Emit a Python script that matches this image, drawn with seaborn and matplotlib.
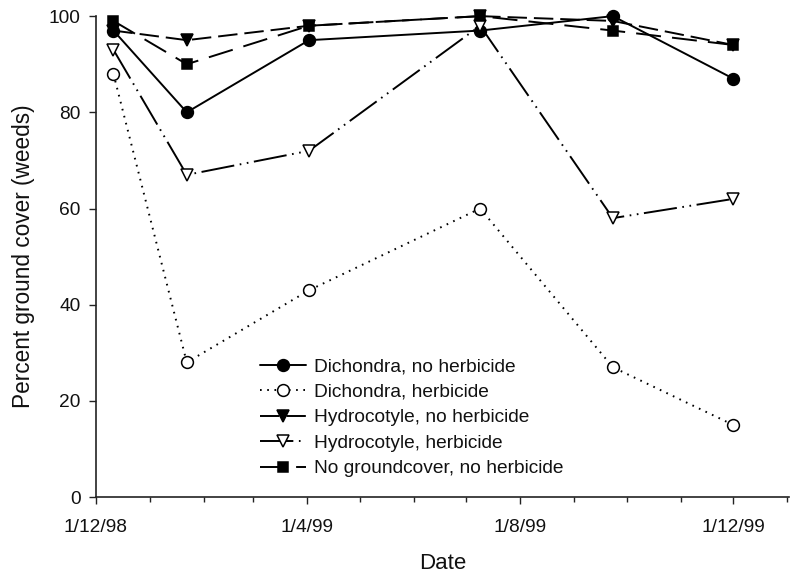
import matplotlib
matplotlib.use("Agg")
import matplotlib.pyplot as plt
import matplotlib.dates as mdates
import matplotlib.ticker as mticker
import numpy as np
import pandas as pd
import seaborn as sns

# ---- data ----
dates = ["1998-12-11", "1999-01-22", "1999-04-02", "1999-07-09", "1999-09-23", "1999-12-01"]
dichondra_no_herb = [97, 80, 95, 97, 100, 87]
dichondra_herb = [88, 28, 43, 60, 27, 15]
hydrocotyle_no_herb = [97, 95, 98, 100, 99, 94]
hydrocotyle_herb = [93, 67, 72, 98, 58, 62]
no_groundcover = [99, 90, 98, 100, 97, 94]

series_names = [
    "Dichondra, no herbicide",
    "Dichondra, herbicide",
    "Hydrocotyle, no herbicide",
    "Hydrocotyle, herbicide",
    "No groundcover, no herbicide",
]
series_values = [dichondra_no_herb, dichondra_herb, hydrocotyle_no_herb,
                 hydrocotyle_herb, no_groundcover]

x_tick_labels = ["1/12/98", "1/4/99", "1/8/99", "1/12/99"]
y_ticks = [0, 20, 40, 60, 80, 100]

# ---- styling ----
sns.set_theme(style="ticks")
plt.rcParams["font.family"] = ["Liberation Sans", "DejaVu Sans"]
plt.rcParams["lines.scale_dashes"] = False

styles = {
    "Dichondra, no herbicide": dict(marker="o", mfc="black", ls="-"),
    "Dichondra, herbicide": dict(marker="o", mfc="white", ls=(0, (1.2, 4))),
    "Hydrocotyle, no herbicide": dict(marker="v", mfc="black", ls=(0, (14, 5))),
    "Hydrocotyle, herbicide": dict(marker="v", mfc="white", ls=(0, (24, 4, 1.2, 4, 1.2, 4))),
    "No groundcover, no herbicide": dict(marker="s", mfc="black", ls=(0, (18, 8))),
}

rows = []
for name, vals in zip(series_names, series_values):
    for d, v in zip(dates, vals):
        rows.append({"Date": pd.Timestamp(d), "value": v, "series": name})
df = pd.DataFrame(rows)

fig = plt.figure(figsize=(7.9, 5.76), dpi=100)
ax = fig.add_axes([0.1215, 0.137, 0.8775, 0.835])

for name in series_names:
    sub = df[df["series"] == name]
    st = styles[name]
    sns.lineplot(data=sub, x="Date", y="value", ax=ax, color="black",
                 linewidth=1.4, linestyle=st["ls"], marker=st["marker"],
                 markersize=8.5 if st["marker"] != "s" else 7.5,
                 markerfacecolor=st["mfc"], markeredgecolor="black",
                 markeredgewidth=1.1, label=name, clip_on=False)

ax.set_ylim(0, 100)
ax.set_yticks(y_ticks)
ax.set_xlim(pd.Timestamp("1998-12-01"), pd.Timestamp("2000-01-02"))

major_dates = [pd.Timestamp("1998-12-01"), pd.Timestamp("1999-04-01"),
               pd.Timestamp("1999-08-01"), pd.Timestamp("1999-12-01")]
ax.xaxis.set_major_locator(mticker.FixedLocator(mdates.date2num(major_dates)))
ax.xaxis.set_major_formatter(mticker.FixedFormatter(x_tick_labels))
ax.xaxis.set_minor_locator(mdates.MonthLocator())

sns.despine(ax=ax)
for sp in ["left", "bottom"]:
    ax.spines[sp].set_linewidth(1.2)
    ax.spines[sp].set_color("#222222")

ax.tick_params(axis="both", which="major", direction="out", length=5,
               width=1.0, color="#222222", labelsize=13.8, labelcolor="#111111")
ax.tick_params(axis="x", which="major", pad=11)
ax.tick_params(axis="x", which="minor", direction="out", length=3.5,
               width=1.0, color="#222222")
ax.tick_params(axis="y", which="major", pad=6)

ax.set_xlabel("Date", fontsize=16, color="#111111", labelpad=12)
ax.set_ylabel("Percent ground cover (weeds)", fontsize=16.3, color="#111111", labelpad=10)

leg = ax.legend(loc="upper left", bbox_to_anchor=(0.225, 0.305), frameon=False,
                fontsize=13.8, handlelength=2.4, handletextpad=0.45,
                labelspacing=0.42, borderaxespad=0)
for t in leg.get_texts():
    t.set_color("#111111")

fig.savefig("out.png", dpi=100)
